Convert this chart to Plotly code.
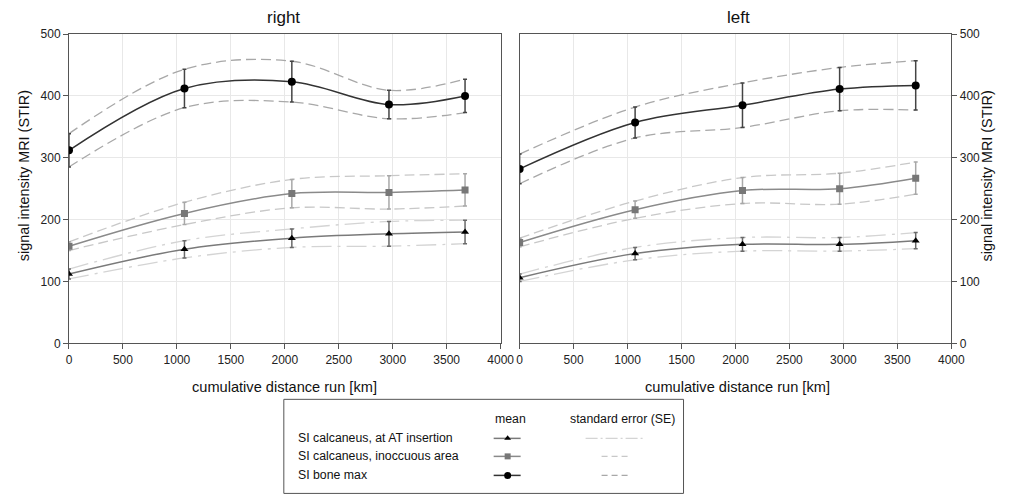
import plotly.graph_objects as go

# ---------------- data ----------------
distance_km = [0, 1070, 2065, 2965, 3670]

# panel "right"
right_bone_mean = [312, 412, 423, 386, 400]
right_bone_se = [27, 31, 33, 23, 27]
right_inoc_mean = [157, 210, 242, 244, 248]
right_inoc_se = [7, 18, 23, 27, 26]
right_at_mean = [112, 152, 170, 177, 180]
right_at_se = [8, 14, 15, 20, 19]

# panel "left"
left_bone_mean = [282, 357, 385, 411, 417]
left_bone_se = [24, 25, 36, 35, 40]
left_inoc_mean = [163, 216, 247, 250, 267]
left_inoc_se = [7, 14, 21, 25, 26]
left_at_mean = [106, 145, 160, 160, 166]
left_at_se = [6, 10, 11, 11, 13]

x_ticks = [0, 500, 1000, 1500, 2000, 2500, 3000, 3500, 4000]
y_ticks = [0, 100, 200, 300, 400, 500]

series_names = ["SI calcaneus, at AT insertion", "SI calcaneus, inoccuous area", "SI bone max"]

FONT = "Liberation Sans, Arial, sans-serif"

# ---- mapping from target picture pixels to figure paper coordinates ----
BODY_MARGIN = 8
A_X, S_X, A_Y, S_Y = 2.1, 0.984, 6.2, 0.971
W, H = 1015, 496


def fx(r):
    return (r - A_X) / S_X - BODY_MARGIN


def fy(r):
    return (r - A_Y) / S_Y - BODY_MARGIN


def px(r):
    return fx(r) / W


def py(r):
    return 1 - fy(r) / H


styles = {
    "at": dict(line="#7a7a7a", marker="black", symbol="triangle-up", msize=7,
               err="#6a6a6a", se_color="#d4d4d4", se_dash="20px,6px,3px,6px"),
    "inoc": dict(line="#8a8a8a", marker="#777777", symbol="square", msize=7,
                 err="#a8a8a8", se_color="#c8c8c8", se_dash="10px,5px"),
    "bone": dict(line="#333333", marker="black", symbol="circle", msize=8,
                 err="#444444", se_color="#a8a8a8", se_dash="10px,5px"),
}

fig = go.Figure()


def add_series(key, mean, se, xa, ya):
    st = styles[key]
    upper = [m + s for m, s in zip(mean, se)]
    lower = [m - s for m, s in zip(mean, se)]
    for band in (upper, lower):
        fig.add_trace(go.Scatter(
            x=distance_km, y=band, mode="lines", xaxis=xa, yaxis=ya,
            line=dict(color=st["se_color"], width=1.3, dash=st["se_dash"], shape="spline", smoothing=1.0),
            showlegend=False, hoverinfo="skip"))
    fig.add_trace(go.Scatter(
        x=distance_km, y=mean, mode="lines", xaxis=xa, yaxis=ya,
        line=dict(color=st["line"], width=1.5, shape="spline", smoothing=1.0),
        showlegend=False, hoverinfo="skip"))
    fig.add_trace(go.Scatter(
        x=distance_km, y=mean, mode="markers", xaxis=xa, yaxis=ya,
        marker=dict(color=st["marker"], symbol=st["symbol"], size=st["msize"]),
        error_y=dict(type="data", array=se, visible=True, color=st["err"], thickness=1.5, width=2),
        showlegend=False))


add_series("at", right_at_mean, right_at_se, "x", "y")
add_series("inoc", right_inoc_mean, right_inoc_se, "x", "y")
add_series("bone", right_bone_mean, right_bone_se, "x", "y")
add_series("at", left_at_mean, left_at_se, "x2", "y2")
add_series("inoc", left_inoc_mean, left_inoc_se, "x2", "y2")
add_series("bone", left_bone_mean, left_bone_se, "x2", "y2")

# ---------------- axes ----------------
ydom = [py(342), py(33)]
axis_common = dict(showline=True, linecolor="#555555", linewidth=1, mirror=True,
                   showgrid=True, gridcolor="#e8e8e8", gridwidth=1, zeroline=False,
                   ticks="outside", ticklen=5, tickcolor="#555555",
                   tickfont=dict(family=FONT, size=12, color="#222222"))

xa_common = dict(axis_common, range=[0, 4000], tickvals=x_ticks, ticktext=[str(v) for v in x_ticks])
ya_common = dict(axis_common, range=[0, 500], tickvals=y_ticks, ticktext=[str(v) for v in y_ticks])

r_x0 = A_X + S_X * BODY_MARGIN
r_x1 = A_X + S_X * (BODY_MARGIN + W)
r_y0 = A_Y + S_Y * BODY_MARGIN
r_y1 = A_Y + S_Y * (BODY_MARGIN + H)

fig.update_layout(
    width=W, height=H,
    margin=dict(l=0, r=0, t=0, b=0),
    paper_bgcolor="white", plot_bgcolor="rgba(0,0,0,0)",
    showlegend=False,
    xaxis=dict(xa_common, domain=[px(68), px(500)], anchor="y"),
    yaxis=dict(ya_common, domain=ydom, anchor="x", side="left"),
    xaxis2=dict(xa_common, domain=[px(519), px(951)], anchor="y2"),
    yaxis2=dict(ya_common, domain=ydom, anchor="x2", side="right"),
    xaxis3=dict(domain=[0, 1], range=[r_x0, r_x1], visible=False, anchor="y3", fixedrange=True),
    yaxis3=dict(domain=[0, 1], range=[r_y1, r_y0], visible=False, anchor="x3", fixedrange=True),
)

ann = []


def txt(x, y, s, size=12, xanchor="center", angle=0):
    ann.append(dict(x=px(x), y=py(y), xref="paper", yref="paper", text=s, showarrow=False,
                    xanchor=xanchor, yanchor="middle", textangle=angle, borderpad=0,
                    font=dict(family=FONT, size=size, color="#111111")))


txt(283, 16, "right", size=17)
txt(738, 16, "left", size=17)
txt(284, 386, "cumulative distance run [km]", size=14.6)
txt(737, 386, "cumulative distance run [km]", size=14.6)
txt(23, 175, "signal intensity MRI (STIR)", size=14.4, angle=-90)
txt(987, 175, "signal intensity MRI (STIR)", size=14.4, angle=-90)

# ---------------- legend box ----------------
fig.add_shape(type="rect", xref="paper", yref="paper",
              x0=px(283), x1=px(683), y0=py(492), y1=py(398),
              line=dict(color="#555555", width=1), layer="below")
txt(510, 418, "mean", size=12.3)
txt(622, 418, "standard error (SE)", size=12.3)
row_y = [437, 455, 474]
keys = ["at", "inoc", "bone"]
se_spans = [(585, 643), (601, 631), (601, 631)]
for name, ry, key, span in zip(series_names, row_y, keys, se_spans):
    st = styles[key]
    txt(296, ry, name, size=12.3, xanchor="left")
    fig.add_trace(go.Scatter(x=[493, 520], y=[ry, ry], mode="lines", xaxis="x3", yaxis="y3",
                             line=dict(color=st["line"], width=1.5), hoverinfo="skip"))
    fig.add_trace(go.Scatter(x=[507], y=[ry], mode="markers", xaxis="x3", yaxis="y3",
                             marker=dict(color=st["marker"], symbol=st["symbol"], size=st["msize"] - 1),
                             hoverinfo="skip"))
    fig.add_trace(go.Scatter(x=list(span), y=[ry, ry], mode="lines", xaxis="x3", yaxis="y3",
                             line=dict(color=st["se_color"], width=1.3,
                                       dash="6px,4px" if key != "at" else "12px,3px,2px,3px"),
                             hoverinfo="skip"))

fig.update_layout(annotations=ann)
fig.write_html("out.html", config={"displayModeBar": False, "responsive": False})
